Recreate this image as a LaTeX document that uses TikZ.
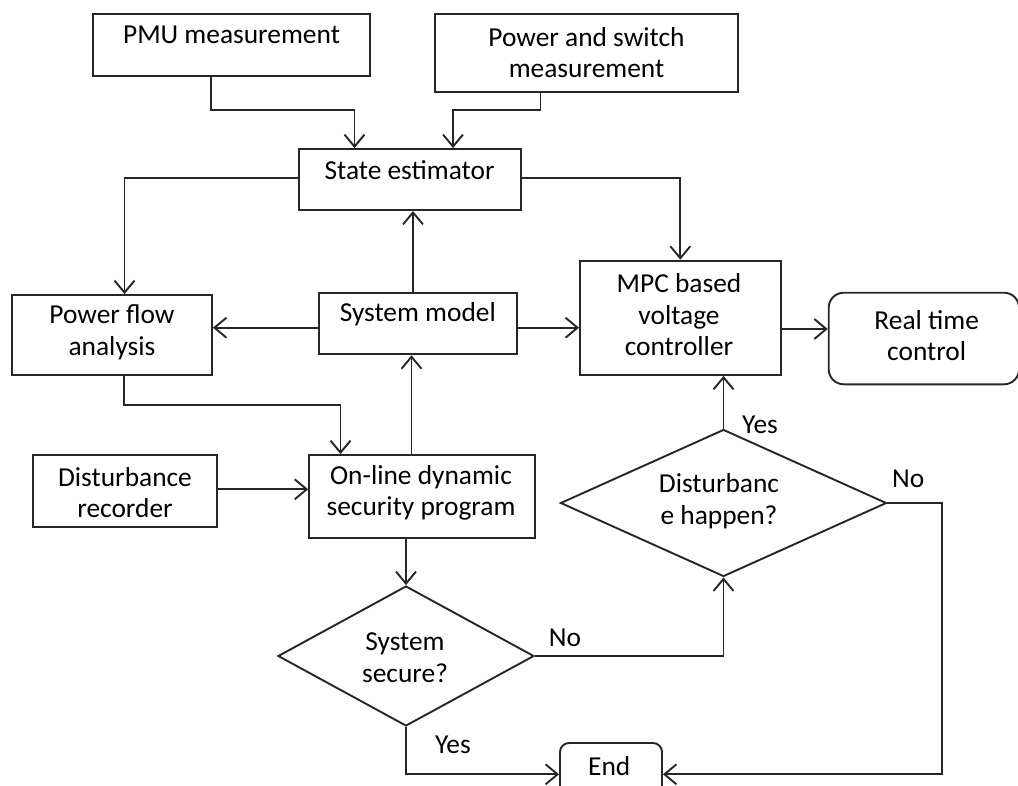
\documentclass[tikz,border=0pt]{standalone}
\usepackage{fontspec}
\setmainfont{Carlito}
\usetikzlibrary{arrows.meta,shapes.geometric}

\begin{document}
\begin{tikzpicture}[x=1pt,y=-1pt,
  box/.style={draw=black!85, line width=1.9pt, rectangle, inner sep=0pt},
  rbox/.style={box, rounded corners=#1},
  decision/.style={draw=black!85, line width=1.9pt, diamond, inner sep=0pt},
  txt/.style={inner sep=0pt, align=center, font=\fontsize{27.4}{31.5}\selectfont},
  arr/.style={draw=black!85, line width=1.9pt,
    -{Straight Barb[length=12pt,width=20pt,line width=1.9pt]}},
]
\useasboundingbox (0,0) rectangle (1018,785);
\clip (0,0) rectangle (1018,785);

% ---------- blocks ----------
\node[box, minimum width=277pt, minimum height=62pt] (pmu) at (231.5,45) {};
\node[txt] (pmu-t) at (231.5,35) {PMU measurement};

\node[box, minimum width=303pt, minimum height=78pt] (pow) at (586.5,53) {};
\node[txt] (pow-t) at (586.5,52.5) {Power and switch\\measurement};

\node[box, minimum width=222pt, minimum height=61pt] (est) at (409.6,179.5) {};
\node[txt] (est-t) at (409.6,170) {State estimator};

\node[box, minimum width=200pt, minimum height=80pt] (pfa) at (112,335) {};
\node[txt] (pfa-t) at (112,332.5) {Power flow\\analysis};

\node[box, minimum width=198.4pt, minimum height=61pt] (sys) at (417.8,323.8) {};
\node[txt] (sys-t) at (417.8,314) {System model};

\node[box, minimum width=200.7pt, minimum height=114.3pt] (mpc) at (680.3,317.8) {};
\node[txt] (mpc-t) at (679,315) {MPC based\\voltage\\controller};

\node[rbox=15pt, minimum width=190.3pt, minimum height=91.6pt] (rtc) at (923.85,338.5) {};
\node[txt] (rtc-t) at (926.7,335.7) {Real time\\control};

\node[box, minimum width=184pt, minimum height=72pt] (dr) at (125,491) {};
\node[txt] (dr-t) at (125,492.5) {Disturbance\\recorder};

\node[box, minimum width=225.7pt, minimum height=83.3pt] (odsp) at (422,496.7) {};
\node[txt] (odsp-t) at (421,493) {On-line dynamic\\security program};

\node[decision, minimum width=256pt, minimum height=140pt] (ss) at (406,656) {};
\node[txt] (ss-t) at (405,657.5) {System\\secure?};

\node[decision, minimum width=326pt, minimum height=147pt] (dh) at (723.5,503) {};
\node[txt] (dh-t) at (719,501) {Disturbanc\\e happen?};

\node[rbox=9pt, minimum width=102pt, minimum height=58pt] (end) at (611,772) {};
\node[txt] (end-t) at (609.3,766) {End};

% ---------- branch labels ----------
\node[txt] (yes1) at (760,425) {Yes};
\node[txt] (no1) at (908.3,478.3) {No};
\node[txt] (no2) at (565,638) {No};
\node[txt] (yes2) at (452.9,745) {Yes};

% ---------- routing points ----------
\coordinate (j1) at (211,110);
\coordinate (j2) at (354.5,110);
\coordinate (j3) at (540.5,110);
\coordinate (j4) at (453,110);
\coordinate (j5) at (124.5,178);
\coordinate (j7) at (413,0);
\coordinate (j8) at (0,327.7);
\coordinate (j9) at (0,329);
\coordinate (j10) at (124.3,405);
\coordinate (j11) at (340.5,405);
\coordinate (j12) at (411.5,0);
\coordinate (j13) at (0,489.3);
\coordinate (j14) at (941.7,774.3);

% ---------- connectors ----------
\draw[arr] (pmu.south -| j1) -- (j1) -- (j2) -- (est.north -| j2);
\draw[arr] (pow.south -| j3) -- (j3) -- (j4) -- (est.north -| j4);
\draw[arr] (est.west |- j5) -- (j5) -- (pfa.north -| j5);
\draw[arr] (est.east |- j5) -| (mpc.north);
\draw[arr] (sys.north -| j7) -- (est.south -| j7);
\draw[arr] (sys.west |- j8) -- (pfa.east |- j8);
\draw[arr] (sys.east |- j8) -- (mpc.west |- j8);
\draw[arr] (mpc.east |- j9) -- (rtc.west |- j9);
\draw[arr] (pfa.south -| j10) -- (j10) -- (j11) -- (odsp.north -| j11);
\draw[arr] (odsp.north -| j12) -- (sys.south -| j12);
\draw[arr] (dr.east |- j13) -- (odsp.west |- j13);
\draw[arr] (odsp.south -| ss.north) -- (ss.north);
\draw[arr] (ss.east) -| (dh.south);
\draw[arr] (dh.north) -- (mpc.south -| dh.north);
\draw[arr] (dh.east) -| (j14) -- (end.east |- j14);
\draw[arr] (ss.south) |- (end.west |- j14);
\end{tikzpicture}
\end{document}
